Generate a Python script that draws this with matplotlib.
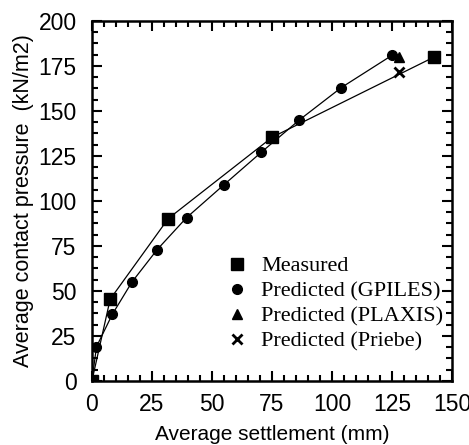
import matplotlib
matplotlib.use("Agg")
import matplotlib.pyplot as plt
from matplotlib.ticker import MultipleLocator

# measured load-settlement
meas_x = [0, 7.6, 31.8, 75.1, 142.6]
meas_y = [0, 45.4, 90.2, 135.4, 180]

# GPILES prediction
gp_x = [0, 1.9, 8.5, 16.7, 27.2, 39.4, 55, 70.5, 86.4, 103.9, 125.1]
gp_y = [0, 19, 37, 55, 73, 90.7, 109, 127, 145, 163, 181]

# PLAXIS and Priebe (final point only)
plx_x = [128]
plx_y = [179.8]
pri_x = [127.9]
pri_y = [171.8]


def main():
    fig = plt.figure(figsize=(4.69, 4.45), dpi=100)
    ax = fig.add_axes([0.196, 0.144, 0.768, 0.809])

    ax.plot(meas_x, meas_y, color="black", lw=0.9, marker="s", ms=9,
            label="Measured")
    ax.plot(gp_x, gp_y, color="black", lw=0.9, marker="o", ms=7,
            label="Predicted (GPILES)")
    ax.plot(plx_x, plx_y, color="black", ls="none", marker="^", ms=7.5,
            label="Predicted (PLAXIS)")
    ax.plot(pri_x, pri_y, color="black", ls="none", marker="x", ms=7,
            mew=2, label="Predicted (Priebe)")

    ax.set_xlim(0, 150)
    ax.set_ylim(0, 200)
    ax.xaxis.set_major_locator(MultipleLocator(25))
    ax.xaxis.set_minor_locator(MultipleLocator(5))
    ax.yaxis.set_major_locator(MultipleLocator(25))
    ax.yaxis.set_minor_locator(MultipleLocator(6.25))
    ax.tick_params(which="both", direction="in", top=True, right=True,
                   width=1.5, labelsize=16.5)
    ax.tick_params(axis="x", pad=9)
    ax.tick_params(axis="y", pad=11)
    ax.tick_params(which="major", length=7)
    ax.tick_params(which="minor", length=4)
    for lab in ax.get_xticklabels() + ax.get_yticklabels():
        lab.set_fontfamily("Liberation Sans")
    for s in ax.spines.values():
        s.set_linewidth(1.8)

    ax.set_xlabel("Average settlement (mm)", fontsize=15,
                  family="Liberation Sans", labelpad=6)
    ax.set_ylabel("Average contact pressure  (kN/m2)", fontsize=15.5,
                  family="Liberation Sans", labelpad=3)

    leg = ax.legend(loc="lower right", bbox_to_anchor=(0.975, 0.082),
                    frameon=False, handlelength=1.0, handletextpad=0.6,
                    labelspacing=0.2, borderaxespad=0, borderpad=0,
                    prop={"family": "Liberation Serif", "size": 16})
    for h in leg.legend_handles:
        h.set_linestyle("none")

    fig.savefig("out.png", dpi=100)
    plt.close(fig)


if __name__ == "__main__":
    main()
